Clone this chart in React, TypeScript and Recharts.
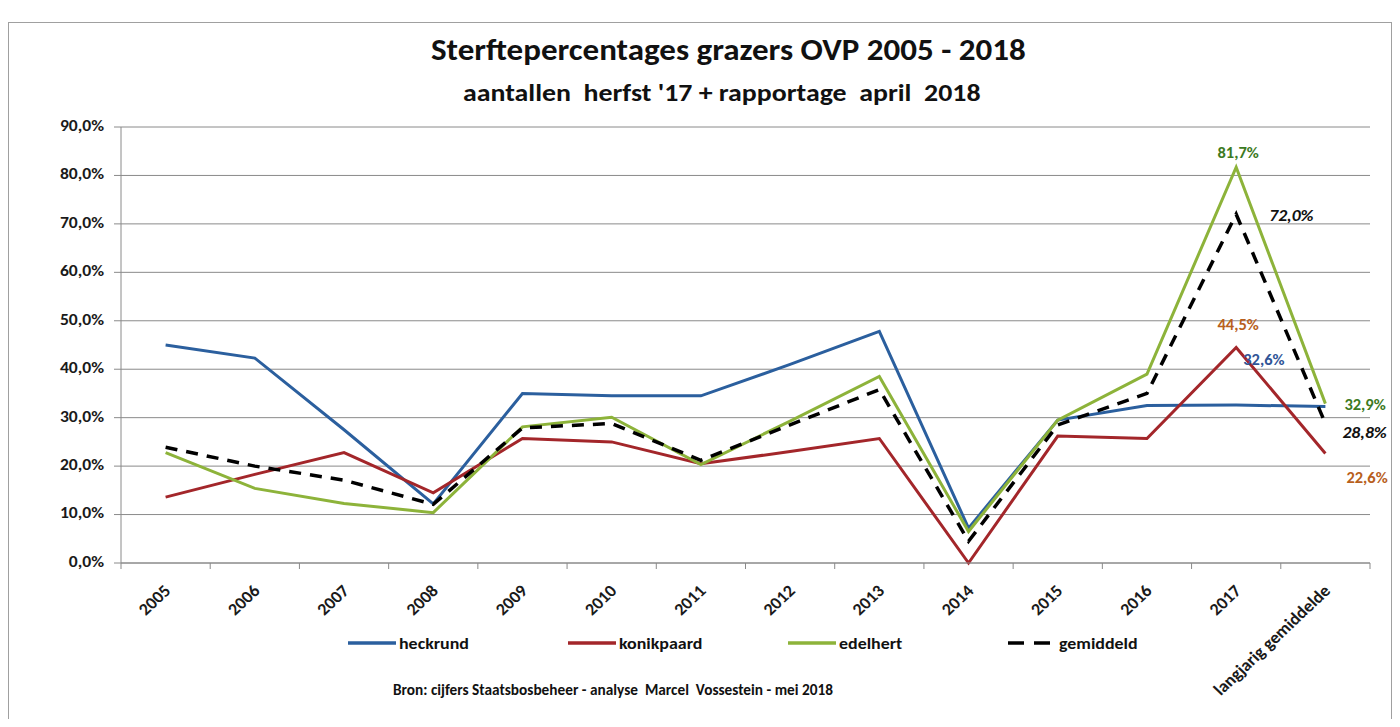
import { LineChart, Line, XAxis, YAxis, CartesianGrid } from 'recharts';

// categories and series
const categories = [
  '2005', '2006', '2007', '2008', '2009', '2010', '2011',
  '2012', '2013', '2014', '2015', '2016', '2017', 'langjarig gemiddelde',
];
const heckrund = [45.0, 42.3, 27.5, 12.2, 35.0, 34.5, 34.5, 41.0, 47.8, 7.2, 29.5, 32.5, 32.6, 32.3];
const konikpaard = [13.6, 18.3, 22.8, 14.5, 25.7, 25.0, 20.5, 23.0, 25.7, 0.0, 26.2, 25.7, 44.5, 22.6];
const edelhert = [22.8, 15.4, 12.3, 10.4, 28.1, 30.1, 20.3, 29.3, 38.5, 6.5, 29.5, 39.0, 81.7, 32.9];
const gemiddeld = [23.9, 20.0, 17.1, 12.1, 27.9, 28.8, 21.2, 28.5, 35.8, 4.5, 28.5, 35.0, 72.0, 28.8];
const yTicks = [0, 10, 20, 30, 40, 50, 60, 70, 80, 90];

// only the last two points carry value labels
const labelledIdx = [12, 13];

const FONT = "Carlito, Calibri, 'Liberation Sans Narrow', sans-serif";
const BLUE = '#2b5f9e';
const RED = '#a3262a';
const GREEN = '#8db33a';

const data = categories.map((name, i) => ({
  x: i,
  name,
  heckrund: heckrund[i],
  konikpaard: konikpaard[i],
  edelhert: edelhert[i],
  gemiddeld: gemiddeld[i],
}));

const fmtPct = (v: number) => v.toFixed(1).replace('.', ',') + '%';

// the original image is a bit wider than Calibri, so text is stretched horizontally
const stretch = (x: number, y: number, s: number, extra = '') =>
  `translate(${x} ${y}) scale(${s} 1) ${extra} translate(${-x} ${-y})`;

// label offsets per series: [dx, dy, anchor] for idx 12 / 13
type LabelCfg = { color: string; italic?: boolean; pos: Record<number, [number, number, string]> };
const labelCfg: Record<string, LabelCfg> = {
  heckrund: { color: '#2f5597', pos: { 12: [7, -44, 'start'] } },
  konikpaard: { color: '#b8601c', pos: { 12: [2, -21, 'middle'], 13: [21, 26, 'start'] } },
  edelhert: { color: '#3c7a22', pos: { 12: [2, -13, 'middle'], 13: [19, 3, 'start'] } },
  gemiddeld: { color: '#111', italic: true, pos: { 12: [33, 3, 'start'], 13: [17, 11, 'start'] } },
};

function makeLabel(key: string) {
  return (props: any) => {
    const { x, y, index, value } = props;
    const cfg = labelCfg[key];
    const p = cfg.pos[index];
    if (!labelledIdx.includes(index) || !p) return null;
    const lx = x + p[0];
    const ly = y + p[1];
    return (
      <text
        key={`${key}-${index}`}
        x={lx}
        y={ly}
        transform={stretch(lx, ly, cfg.italic ? 1.18 : 1.1)}
        textAnchor={p[2] as any}
        fill={cfg.color}
        fontSize={15}
        fontWeight={700}
        fontStyle={cfg.italic ? 'italic' : 'normal'}
        fontFamily={FONT}
        dominantBaseline="middle"
      >
        {fmtPct(value)}
      </text>
    );
  };
}

function XTick(props: any) {
  const { x, y, payload } = props;
  const label = categories[payload.value];
  if (label === undefined) return null;
  const ax = x + 3;
  const ay = y + 10;
  return (
    <text
      x={ax}
      y={ay}
      transform={stretch(ax, ay, 1.06, 'rotate(-45)')}
      textAnchor="end"
      dominantBaseline="middle"
      fontSize={17}
      fontWeight={700}
      fontFamily={FONT}
      fill="#1a1a1a"
    >
      {label}
    </text>
  );
}

function YTick(props: any) {
  const { x, y, payload } = props;
  return (
    <text
      x={x}
      y={y}
      transform={stretch(x, y, 1.1)}
      textAnchor="end"
      dominantBaseline="middle"
      fontSize={16}
      fontWeight={700}
      fontFamily={FONT}
      fill="#1a1a1a"
    >
      {fmtPct(payload.value)}
    </text>
  );
}

// boundary ticks: keep the tick line, draw no text
function EmptyTick() {
  return <g />;
}

const legendItems = [
  { name: 'heckrund', color: BLUE, dashed: false },
  { name: 'konikpaard', color: RED, dashed: false },
  { name: 'edelhert', color: GREEN, dashed: false },
  { name: 'gemiddeld', color: '#000', dashed: true },
];

const stretchBox = (s: number): React.CSSProperties => ({
  display: 'inline-block',
  transform: `scaleX(${s})`,
  transformOrigin: 'left center',
  whiteSpace: 'nowrap',
});

export default function App() {
  const boundaries = categories.map((_, i) => i - 0.5).concat([categories.length - 0.5]);
  const centers = categories.map((_, i) => i);

  return (
    <div style={{ position: 'relative', width: 1384, height: 711, fontFamily: FONT }}>
      {/* chart frame */}
      <div
        style={{
          position: 'absolute',
          left: 0,
          top: 14,
          width: 1384,
          height: 704,
          border: '1px solid #a0a0a0',
          boxSizing: 'border-box',
        }}
      />
      <div
        style={{
          position: 'absolute',
          left: 423,
          top: 23,
          fontSize: 30,
          fontWeight: 700,
          color: '#111',
        }}
      >
        <span style={stretchBox(1.1)}>Sterftepercentages grazers OVP 2005 - 2018</span>
      </div>
      <div
        style={{
          position: 'absolute',
          left: 455,
          top: 70,
          fontSize: 24,
          fontWeight: 700,
          color: '#111',
        }}
      >
        <span style={stretchBox(1.16)}>aantallen&nbsp; herfst '17 + rapportage&nbsp; april&nbsp; 2018</span>
      </div>

      <div style={{ position: 'absolute', left: 0, top: 0 }}>
        <LineChart
          width={1384}
          height={711}
          data={data}
          margin={{ top: 119, right: 22, bottom: 0, left: 0 }}
        >
          <CartesianGrid horizontal vertical={false} stroke="#8a8a8a" strokeWidth={1} />
          <XAxis
            xAxisId="a"
            dataKey="x"
            type="number"
            domain={[-0.5, categories.length - 0.5]}
            ticks={boundaries}
            interval={0}
            tick={<EmptyTick />}
            tickSize={6}
            stroke="#8a8a8a"
            height={8}
          />
          <XAxis
            xAxisId="b"
            dataKey="x"
            type="number"
            domain={[-0.5, categories.length - 0.5]}
            ticks={centers}
            interval={0}
            tick={<XTick />}
            tickLine={false}
            axisLine={false}
            height={148}
          />
          <YAxis
            domain={[0, 90]}
            ticks={yTicks}
            width={113}
            tickSize={7}
            tickMargin={10}
            stroke="#8a8a8a"
            tick={<YTick />}
          />
          <Line
            xAxisId="a"
            dataKey="heckrund"
            stroke={BLUE}
            strokeWidth={3}
            dot={false}
            isAnimationActive={false}
            label={makeLabel('heckrund')}
          />
          <Line
            xAxisId="a"
            dataKey="konikpaard"
            stroke={RED}
            strokeWidth={3}
            dot={false}
            isAnimationActive={false}
            label={makeLabel('konikpaard')}
          />
          <Line
            xAxisId="a"
            dataKey="edelhert"
            stroke={GREEN}
            strokeWidth={3}
            dot={false}
            isAnimationActive={false}
            label={makeLabel('edelhert')}
          />
          <Line
            xAxisId="a"
            dataKey="gemiddeld"
            stroke="#000"
            strokeWidth={3.5}
            strokeDasharray="12 9"
            dot={false}
            isAnimationActive={false}
            label={makeLabel('gemiddeld')}
          />
        </LineChart>
      </div>

      {/* legend */}
      <div style={{ position: 'absolute', left: 340, top: 625, display: 'flex' }}>
        {legendItems.map((it) => (
          <div key={it.name} style={{ width: 220, display: 'flex', alignItems: 'center' }}>
            <svg width={51} height={20}>
              <line
                x1={0}
                x2={48}
                y1={10}
                y2={10}
                stroke={it.color}
                strokeWidth={3.5}
                strokeDasharray={it.dashed ? '16 10' : undefined}
              />
            </svg>
            <span style={{ fontSize: 16, fontWeight: 700, color: '#111' }}>
              <span style={stretchBox(1.12)}>{it.name}</span>
            </span>
          </div>
        ))}
      </div>

      <div
        style={{
          position: 'absolute',
          left: 385,
          top: 673,
          fontSize: 15,
          fontWeight: 700,
          color: '#111',
        }}
      >
        <span style={stretchBox(1.02)}>
          Bron: cijfers Staatsbosbeheer - analyse&nbsp; Marcel&nbsp; Vossestein - mei 2018
        </span>
      </div>
    </div>
  );
}
